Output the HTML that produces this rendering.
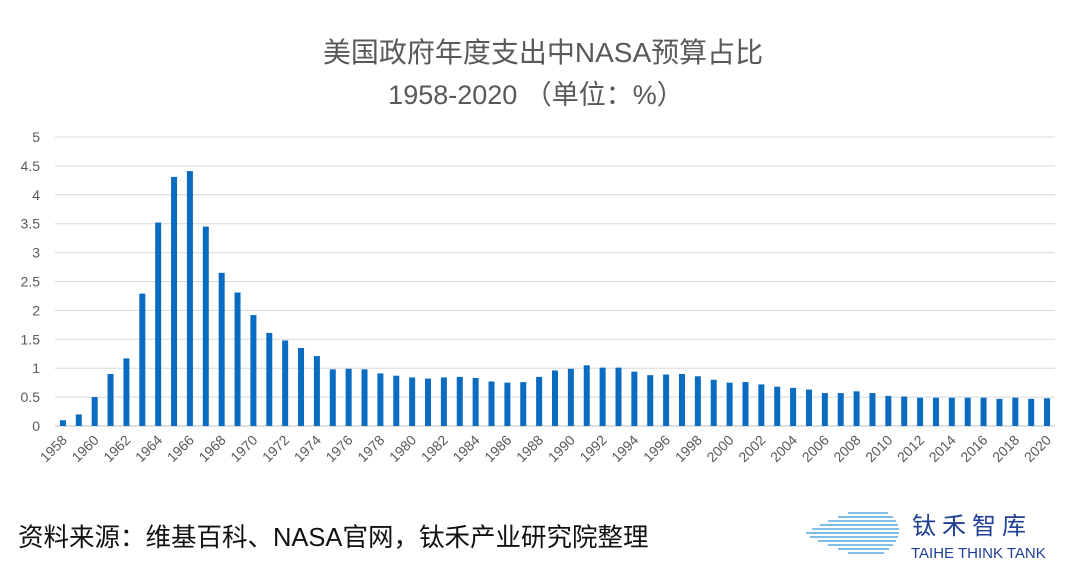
<!DOCTYPE html>
<html><head><meta charset="utf-8">
<style>
body{margin:0;background:#fff;width:1080px;height:576px;overflow:hidden;font-family:"Liberation Sans","Noto Sans CJK SC",sans-serif;}
</style></head>
<body>
<svg width="1080" height="576" style="position:absolute;left:0;top:0">
<text x="543" y="62" text-anchor="middle" font-size="28" fill="#595959" font-family="Liberation Sans, Noto Sans CJK SC, sans-serif">美国政府年度支出中NASA预算占比</text>
<text x="536" y="104" text-anchor="middle" font-size="27" fill="#595959" font-family="Liberation Sans, Noto Sans CJK SC, sans-serif">1958-2020 （单位：%）</text>
<g id="grid"></g><g id="bars"></g><g id="xlabels"></g><g id="ylabels"></g>
<text x="18" y="546" font-size="25.5" fill="#111" font-family="Liberation Sans, Noto Sans CJK SC, sans-serif">资料来源：维基百科、NASA官网，钛禾产业研究院整理</text>
<g>
<g stroke="#5aa9e0" stroke-width="1.5">
<line x1="848" y1="513" x2="888" y2="513"/><line x1="838" y1="517" x2="893" y2="517"/><line x1="828" y1="521" x2="896" y2="521"/><line x1="820" y1="525" x2="898" y2="525"/><line x1="812" y1="529" x2="899" y2="529"/><line x1="806" y1="533" x2="899" y2="533"/><line x1="810" y1="537" x2="898" y2="537"/><line x1="818" y1="541" x2="896" y2="541"/><line x1="828" y1="545" x2="893" y2="545"/><line x1="838" y1="549" x2="889" y2="549"/><line x1="848" y1="553" x2="884" y2="553"/>
</g>
<text x="912" y="534" font-size="24" fill="#1e3f94" letter-spacing="6" font-family="Noto Sans CJK SC, sans-serif">钛禾智库</text>
<text x="911" y="558" font-size="15" fill="#1e3f94" font-family="Liberation Sans, sans-serif">TAIHE THINK TANK</text>
</g>
</svg>
<script>
const years=[];for(let y=1958;y<=2020;y++)years.push(y);
const values=[0.1,0.2,0.5,0.9,1.17,2.29,3.52,4.31,4.41,3.45,2.65,2.31,1.92,1.61,1.48,1.35,1.21,0.98,0.99,0.98,0.91,0.87,0.84,0.82,0.84,0.85,0.83,0.77,0.75,0.76,0.85,0.96,0.99,1.05,1.01,1.01,0.94,0.88,0.89,0.9,0.86,0.8,0.75,0.76,0.72,0.68,0.66,0.63,0.57,0.57,0.6,0.57,0.52,0.51,0.49,0.49,0.49,0.49,0.49,0.47,0.49,0.47,0.48];
const yTicks=[0,0.5,1,1.5,2,2.5,3,3.5,4,4.5,5];
const NS="http://www.w3.org/2000/svg";
const L=55,R=1055,Y0=426,Y5=137;
const band=(R-L)/years.length;
function xc(i){return L+band*(i+0.5);}
function yv(v){return Y0-(v/5)*(Y0-Y5);}
const g=document.getElementById('grid'),b=document.getElementById('bars'),xl=document.getElementById('xlabels'),yl=document.getElementById('ylabels');
yTicks.forEach(t=>{
 const l=document.createElementNS(NS,'line');
 l.setAttribute('x1',L);l.setAttribute('x2',R);l.setAttribute('y1',yv(t));l.setAttribute('y2',yv(t));
 l.setAttribute('stroke',t===0?'#bfbfbf':'#d9d9d9');l.setAttribute('stroke-width','1');
 
 
 g.appendChild(l);
 const tx=document.createElementNS(NS,'text');
 tx.setAttribute('x',40);tx.setAttribute('y',yv(t)+5);tx.setAttribute('text-anchor','end');
 tx.setAttribute('font-size','14');tx.setAttribute('fill','#595959');tx.textContent=String(t);
 
 
 yl.appendChild(tx);
});
years.forEach((yr,i)=>{
 const r=document.createElementNS(NS,'rect');
 r.setAttribute('x',xc(i)-3);r.setAttribute('width',6);
 r.setAttribute('y',yv(values[i]));r.setAttribute('height',Y0-yv(values[i]));
 r.setAttribute('fill','#0a6cc0');
 
 
 b.appendChild(r);
 if(i%2===0){
  const tx=document.createElementNS(NS,'text');
  const x=xc(i)+5,y=441;
  tx.setAttribute('x',x);tx.setAttribute('y',y);tx.setAttribute('text-anchor','end');
  tx.setAttribute('transform','rotate(-45 '+x+' '+y+')');
  tx.setAttribute('font-size','14');tx.setAttribute('fill','#595959');tx.textContent=yr;
  
  
  xl.appendChild(tx);
 }
});
</script>
</body></html>
